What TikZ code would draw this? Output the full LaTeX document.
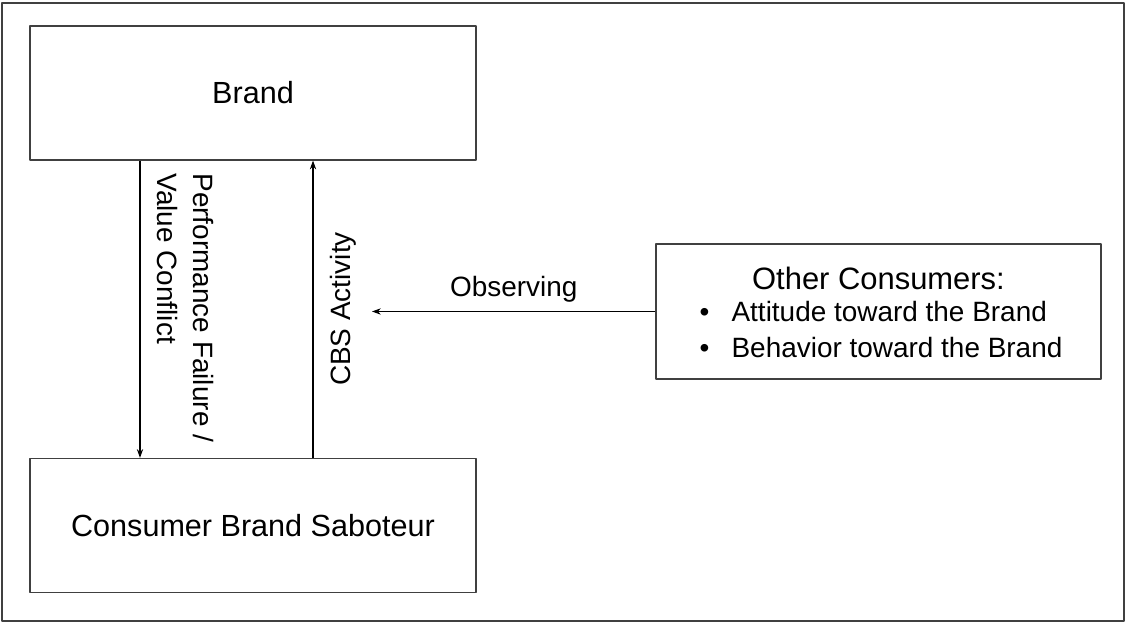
\documentclass[tikz,border=0pt]{standalone}
\usepackage{fontspec}
\setmainfont{Liberation Sans}
\usetikzlibrary{arrows.meta}
\newcommand\labsize{\fontsize{15.9}{20.5}\selectfont}
\newcommand\boxsize{\fontsize{17.4}{21}\selectfont}
\tikzset{
  box/.style={draw=black!75, line width=0.7pt, inner sep=0pt, font=\boxsize},
  lab/.style={inner sep=0pt, font=\labsize},
  frame/.style={draw=black!75, line width=0.7pt}
}
\begin{document}
\begin{tikzpicture}[line width=0.6pt, line join=round, >={Stealth[length=5pt,width=3.6pt]}]
\def\bw{8.92} \def\bh{2.68}
\useasboundingbox (0,0) rectangle (22.54,12.48);
\draw[frame] (0.04,0.06) rectangle (22.48,12.42);
% the three boxes
\node[box, minimum width=\bw cm, minimum height=\bh cm] (brand) at (5.06,10.62) {Brand};
\node[box, minimum width=\bw cm, minimum height=\bh cm] (cbs) at (5.06,1.97) {Consumer Brand Saboteur};
\node[box, minimum width=8.9cm, minimum height=2.7cm, align=center, font=\labsize] (other) at (17.57,6.25)
  {{\fontsize{17.6}{20.5}\selectfont\rule{0pt}{19.6pt}Other Consumers:}\\[-2.3pt]
   \hspace{0.1cm}\begin{tabular}[t]{@{}l@{}}
   \makebox[0.64cm][l]{\textbullet}Attitude toward the Brand\\
   \makebox[0.64cm][l]{\textbullet}Behavior toward the Brand
   \end{tabular}};
\coordinate (obs) at (7.44,6.25);
% arrows
\draw[->] ([xshift=-2.26cm]brand.south) -- ([xshift=-2.26cm]cbs.north);
\draw[->] ([xshift=1.2cm]cbs.north) -- ([xshift=1.2cm]brand.south);
\draw[->] (other.west) -- (obs) node[midway, above, yshift=0.06cm, font=\labsize] (look) {Observing};
% labels
\node[lab, rotate=-90, anchor=north west, align=left] (fail) at (4.28,9.02) {Performance Failure /\\Value Conflict};
\node[lab, rotate=90] (act) at (6.86,6.3) {CBS Activity};
\end{tikzpicture}
\end{document}
